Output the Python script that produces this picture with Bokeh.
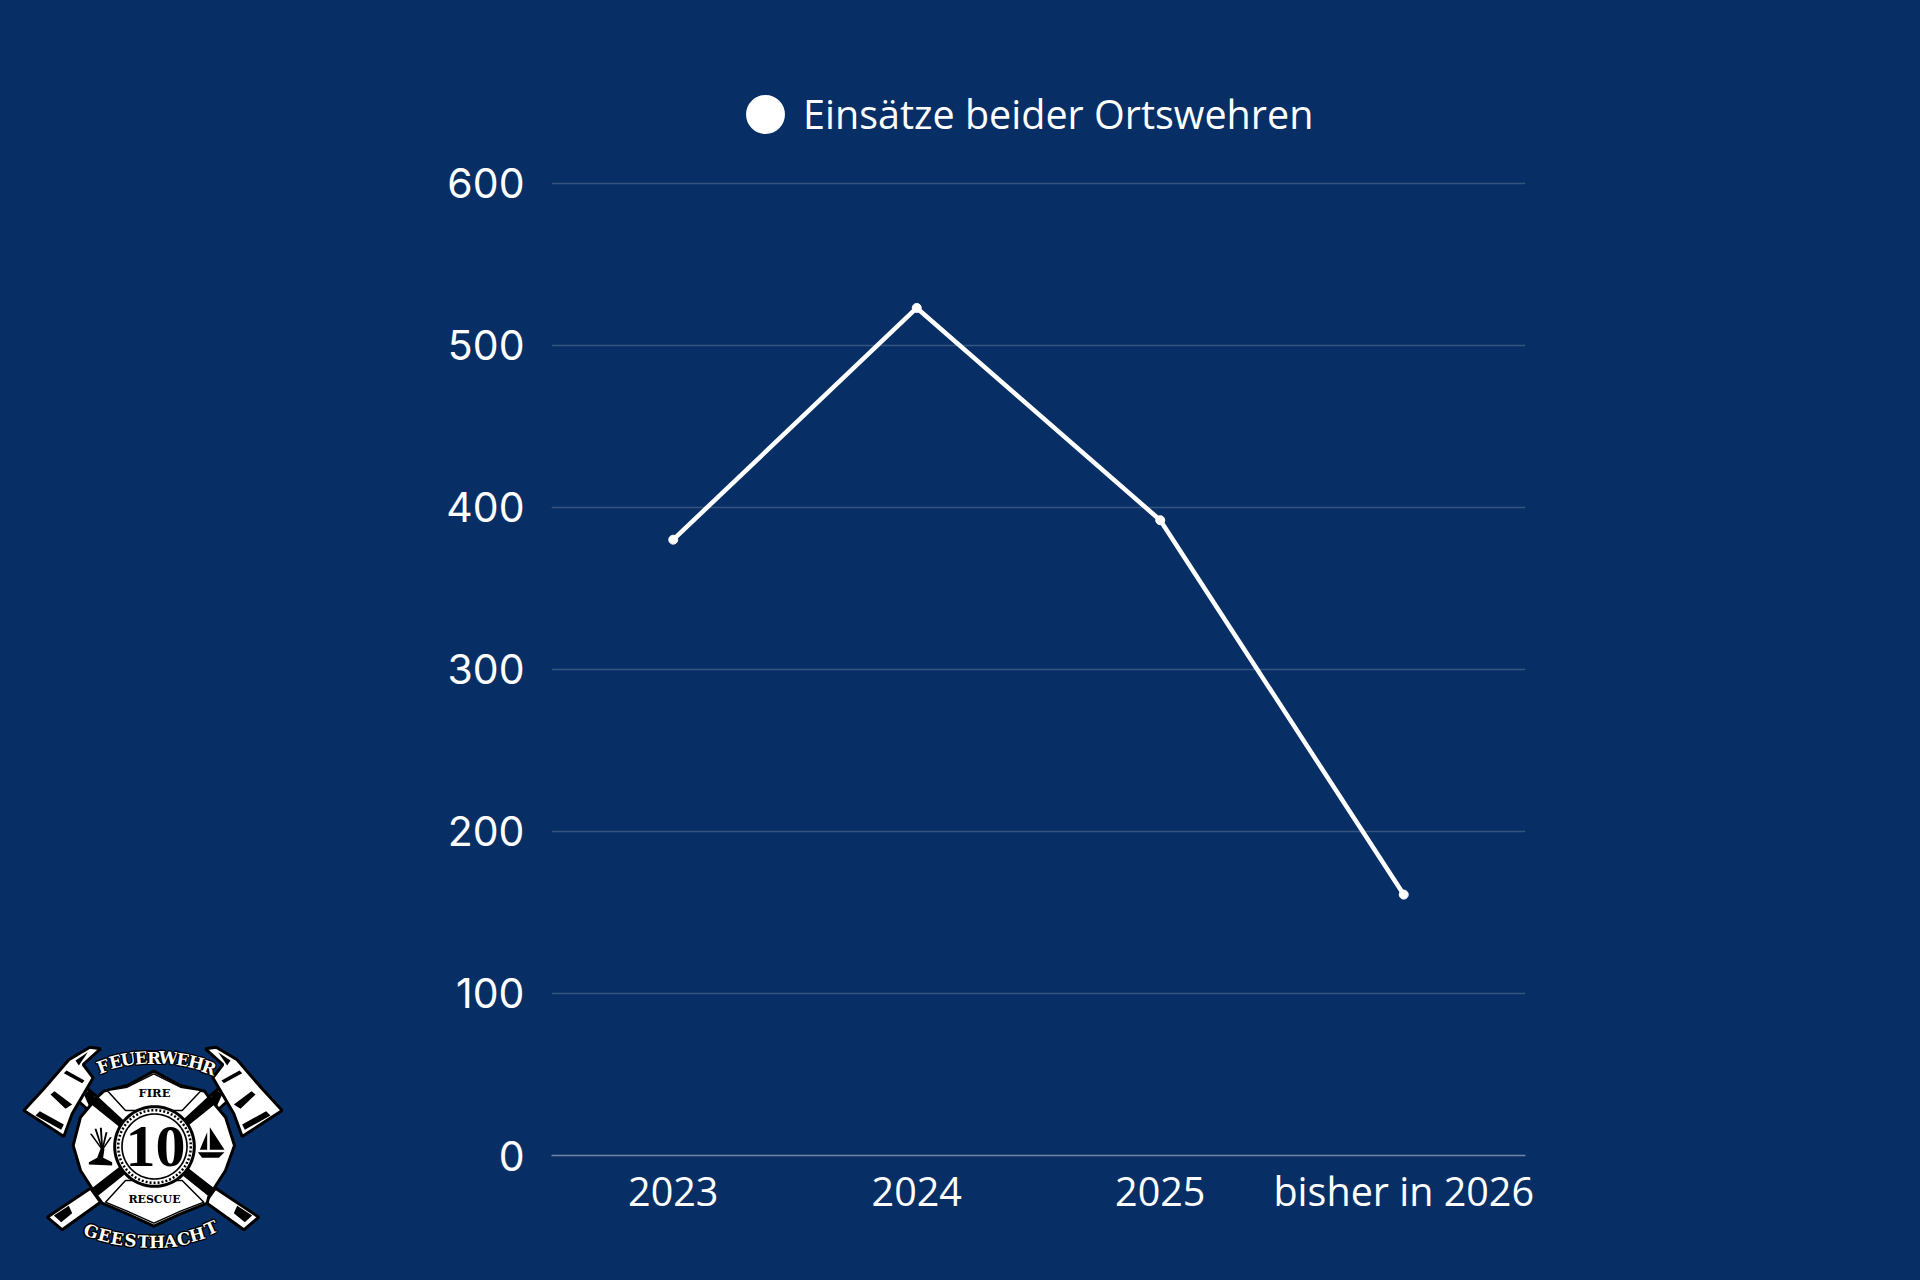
import numpy as np
from bokeh.core.properties import value
from bokeh.embed import file_html
from bokeh.models import FixedTicker, Legend, LegendItem, Range1d
from bokeh.plotting import figure
from bokeh.resources import INLINE

categories = ["2023", "2024", "2025", "bisher in 2026"]
einsaetze = [380, 523, 392, 161]
y_ticks = [0, 100, 200, 300, 400, 500, 600]
legend_label = "Einsätze beider Ortswehren"

BG = "#072f65"
FONT = "Open Sans"
FS = "39.5px"

# frame runs above the 600 line so that the legend sits inside it
p = figure(
    width=1920, height=1280, x_range=categories, y_range=Range1d(0, 676.3),
    output_backend="svg", toolbar_location=None,
    background_fill_color=BG, border_fill_color=BG, outline_line_color=None,
    min_border_left=551, min_border_right=395, min_border_top=59, min_border_bottom=125,
)
p.x_range.range_padding = 0
p.xgrid.visible = False
p.ygrid.grid_line_color = "#35557f"
p.ygrid.grid_line_width = 1.3
p.ygrid.ticker = FixedTicker(ticks=y_ticks)

p.yaxis.ticker = FixedTicker(ticks=y_ticks)
p.yaxis.axis_line_color = None
p.xaxis.axis_line_color = "#6f86a8"
p.xaxis.axis_line_width = 1.5
for ax in (p.xaxis[0], p.yaxis[0]):
    ax.major_tick_line_color = None
    ax.minor_tick_line_color = None
    ax.major_label_text_color = "white"
    ax.major_label_text_font = FONT
    ax.major_label_text_font_size = FS
p.yaxis.major_label_text_font = "Inter"
p.yaxis.major_label_text_font_size = "41px"
p.yaxis.major_label_standoff = 21
p.xaxis.major_label_standoff = 2

p.line(categories, einsaetze, line_color="white", line_width=4.5, line_join="round")
p.scatter(categories, einsaetze, size=9, color="white")

# legend swatch: a marker without points of its own, its outline widens the legend's dot
swatch = p.scatter(categories, [float("nan")] * len(categories), size=9, color="white", line_width=8.5)
legend = Legend(
    items=[LegendItem(label=legend_label, renderers=[swatch])],
    location=(176, 1003),
    glyph_width=76, glyph_height=76, label_standoff=0, padding=0, margin=0,
    border_line_color=None, background_fill_alpha=0,
    label_text_color="white", label_text_font=FONT, label_text_font_size=FS,
)
p.add_layout(legend)

# ---- Emblem (decoration), in its own small overlaid figure, local coords 900x780 ----
L = figure(
    width=300, height=260, x_range=Range1d(0, 900), y_range=Range1d(780, 0),
    output_backend="svg", toolbar_location=None, outline_line_color=None,
    background_fill_alpha=0, border_fill_alpha=0,
    min_border=0, x_axis_location=None, y_axis_location=None,
)
L.grid.visible = False
L.styles = {"position": "absolute", "left": "0px", "top": "1020px"}


def poly(points, fill="white", line=None, lw=0):
    xs = [a for a, _ in points]
    ys = [b for _, b in points]
    L.patch(xs, ys, fill_color=fill, line_color=line, line_width=lw)


def mirror(points):
    return [(915 - a, b) for a, b in points]


def both(points, **kw):
    poly(points, **kw)
    poly(mirror(points), **kw)


def ring(x, y, r, fill="white"):
    t = np.linspace(0, 2 * np.pi, 73)[:-1]
    poly(list(zip(x + r * np.cos(t), y + r * np.sin(t))), fill=fill)


def text(s, x, y, size, angle=0, font="DejaVu Serif", color="black"):
    L.text([x], [y], text=[s], angle=[np.deg2rad(angle)], text_font=value(font),
           text_font_style="bold", text_font_size=f"{size}px", text_color=color,
           text_align="center", text_baseline="middle")


def halo(s, x, y, size, angle):
    for dx, dy in [(-4, 0), (4, 0), (0, -4), (0, 4), (-3, -3), (3, -3), (-3, 3), (3, 3)]:
        text(s, x + dx, y + dy, size, angle=angle, color="black")
    text(s, x, y, size, angle=angle, color="white")


# crossed handles
both([(140, 590), (270, 503), (300, 545), (185, 628)], line="black", lw=3)
both([(160, 585), (205, 556), (215, 578), (182, 605)], fill="black")
both([(232, 240), (262, 205), (372, 300), (335, 335)], line="black", lw=3)
both([(250, 222), (268, 208), (290, 240), (268, 262)], fill="black")

# axe heads
both([(70, 270), (190, 348), (215, 280), (278, 172), (248, 132), (300, 85), (268, 80),
      (205, 118), (130, 205)], line="black", lw=3)
both([(150, 222), (162, 212), (215, 252), (195, 265)], fill="black")
both([(190, 158), (198, 150), (252, 180), (245, 188)], fill="black")
both([(105, 285), (118, 272), (190, 312), (182, 328)], fill="black")
both([(225, 120), (262, 95), (235, 135)], fill="black")

# Maltese cross
cross = [(310, 212), (380, 195), (460, 152), (540, 195), (612, 212), (625, 230), (675, 290), (702, 375),
         (675, 450), (625, 528), (620, 548), (540, 580), (460, 617), (380, 580), (305, 548), (290, 528),
         (240, 450), (218, 375), (240, 290), (290, 230)]
poly(cross, line="black", lw=3)
both([(292, 228), (370, 300), (355, 318), (270, 250)], fill="black")
both([(290, 528), (375, 460), (355, 440), (272, 505)], fill="black")
poly([(320, 210), (380, 200), (460, 160), (540, 200), (602, 210), (545, 270), (375, 270)],
     fill="white", line="black", lw=1.5)
poly([(315, 545), (375, 480), (545, 480), (610, 545), (540, 572), (460, 608), (380, 572)],
     fill="white", line="black", lw=1.5)

# centre ring
ring(462, 378, 124, fill="black")
ring(462, 378, 115, fill="white")
t_ring = np.linspace(0, 2 * np.pi, 73)
L.line(462 + 109 * np.cos(t_ring), 378 + 109 * np.sin(t_ring), line_color="black", line_width=2.5, line_dash="2 2")
ring(462, 378, 100, fill="black")
ring(462, 378, 95, fill="white")

text("10", 465, 378, 60, font="Liberation Sans Narrow")
text("FIRE", 462, 218, 11.5)
text("RESCUE", 462, 538, 11)

# tree
poly([(265, 425), (290, 412), (300, 385), (312, 385), (308, 412), (335, 425), (335, 435), (265, 432)], fill="black")
for bx, by in [(268, 340), (282, 325), (298, 322), (315, 335), (328, 350)]:
    poly([(303, 388), (bx, by), (bx + 6, by), (308, 388)], fill="black")

# boat
poly([(628, 320), (628, 388), (672, 388)], fill="black")
poly([(620, 335), (620, 388), (598, 388)], fill="black")
poly([(592, 395), (672, 395), (655, 412), (605, 412)], fill="black")

# arched lettering
for ch, x, y, a in zip("FEUERWEHR",
                       [308, 345, 383, 422, 461, 503, 547, 587, 625],
                       [138, 124, 116, 112, 111, 112, 118, 127, 142],
                       [20, 14, 9, 5, 0, -4, -9, -14, -20]):
    halo(ch, x, y, 17, a)
for ch, x, y, a in zip("GEESTHACHT",
                       [272, 312, 350, 390, 430, 470, 510, 550, 590, 632],
                       [632, 645, 655, 660, 664, 665, 662, 655, 642, 622],
                       [-18, -14, -10, -6, -2, 1, 5, 9, 16, 24]):
    halo(ch, x, y, 17, a)

html = file_html((p, L), INLINE)
html = html.replace("</head>", f"<style>html,body{{background:{BG};}}</style></head>", 1)
open("out.html", "w").write(html)
